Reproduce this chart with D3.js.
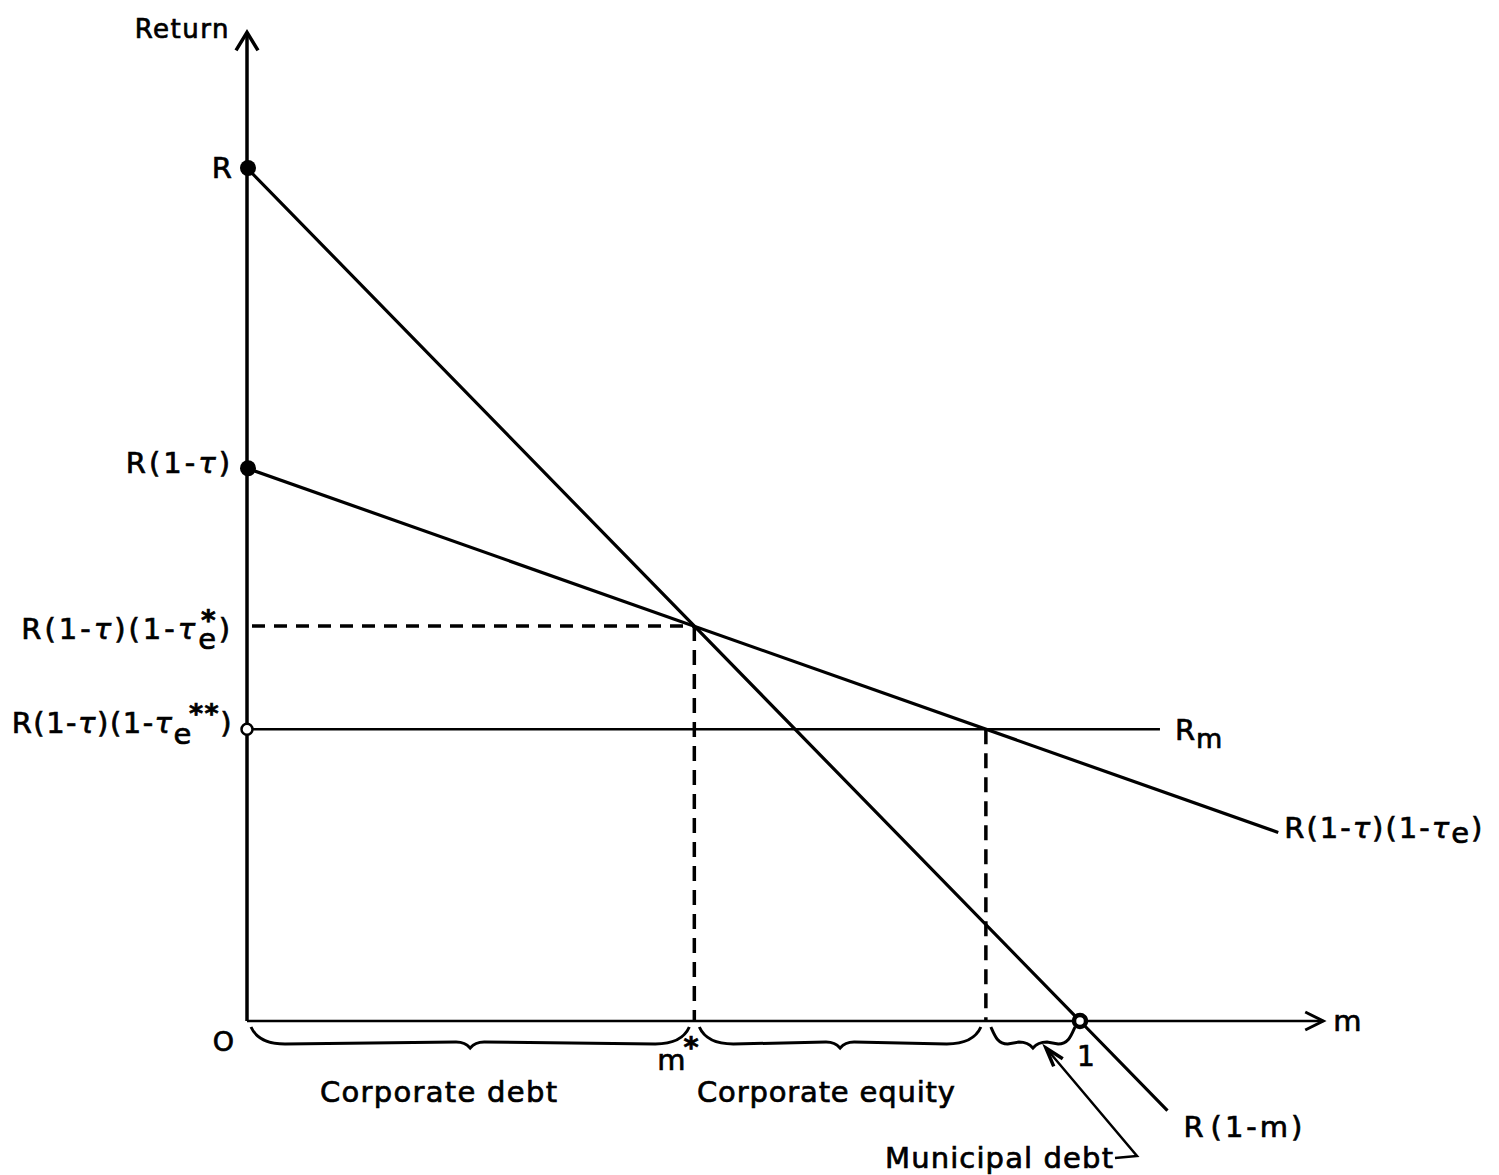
<!DOCTYPE html>
<head>
<meta charset="utf-8">
<title>Return vs m</title>
<script src="https://d3js.org/d3.v7.min.js"></script>
<style>
  body { margin: 0; background: #fff; }
  text { font-family: "DejaVu Sans", sans-serif; fill: #000; stroke: #000; stroke-width: 0.7px; }
</style>
</head>
<body>
<div id="container"></div>
<script>
//---------------------------- DATA ----------------------------//
// m on the x axis (0 .. 1), return on the y axis with R = 1
const lineR   = [[0, 1], [1, 0], [1.105, -0.105]];     // R(1-m)
const lineTax = [[0, 0.648], [1.238, 0.221]];          // R(1-tau)(1-tau_e)
const rmLevel = 0.342, rmEnd = 1.096;                  // R_m
const mStar = 0.537, rStar = 0.463;                    // m*, R(1-tau)(1-tau_e*)
const mStar2 = 0.887;                                  // where R_m meets the tax line
const filledPts = [[0, 1], [0, 0.648]];
const openPts = [[0, rmLevel]];
const zones = [
  { name: "Corporate debt",   from: 0,      to: mStar,  lx: 320, lw: 237 },
  { name: "Corporate equity", from: mStar,  to: mStar2, lx: 697, lw: 258 },
  { name: "Municipal debt",   from: mStar2, to: 1,      lx: 885, lw: 228 }
];
const xMax = 1.292, yMax = 1.159;

//--------------------------- SETUP ----------------------------//
const width = 1499, height = 1175;
const svg = d3.select("#container").append("svg")
    .attr("width", width)
    .attr("height", height);

const x = d3.scaleLinear().domain([0, 1]).range([247, 1080]);
const y = d3.scaleLinear().domain([0, 1]).range([1021, 168]);
const line = d3.line().x(d => x(d[0])).y(d => y(d[1]));

// little helper for labels made of several tspans
function rich(px, py, anchor, parts, size, spacing) {
  const t = svg.append("text")
      .attr("x", px).attr("y", py)
      .attr("text-anchor", anchor)
      .style("font-size", size + "px")
      .style("letter-spacing", (spacing || 0) + "px");
  parts.forEach(function(p) {
    const s = t.append("tspan").text(p.t);
    if (p.it) s.style("font-style", "italic");
    if (p.bold) s.style("font-weight", "bold");
    if (p.dx) s.attr("dx", p.dx);
    if (p.dy) s.attr("dy", p.dy);
    if (p.fs) s.style("font-size", p.fs + "px");
  });
  return t;
}

//---------------------------- AXES ----------------------------//
svg.append("line")
    .attr("x1", x(0)).attr("y1", y(0))
    .attr("x2", x(0)).attr("y2", y(yMax))
    .attr("stroke", "#000").attr("stroke-width", 3.5);
svg.append("path")
    .attr("d", "M" + (x(0) - 11) + "," + (y(yMax) + 18) + "L" + x(0) + "," + y(yMax) +
               "L" + (x(0) + 11) + "," + (y(yMax) + 18))
    .attr("fill", "none").attr("stroke", "#000").attr("stroke-width", 3.5);

svg.append("line")
    .attr("x1", x(0)).attr("y1", y(0))
    .attr("x2", x(xMax)).attr("y2", y(0))
    .attr("stroke", "#000").attr("stroke-width", 2.5);
svg.append("path")
    .attr("d", "M" + (x(xMax) - 18) + "," + (y(0) - 9) + "L" + x(xMax) + "," + y(0) +
               "L" + (x(xMax) - 18) + "," + (y(0) + 9))
    .attr("fill", "none").attr("stroke", "#000").attr("stroke-width", 3);

rich(x(0) - 17, y(yMax) + 6, "end", [{ t: "Return" }], 26, 1.5);
rich(x(xMax) + 10, y(0) + 10, "start", [{ t: "m" }], 29, 0);

//--------------------------- GUIDES ---------------------------//
svg.append("line")
    .attr("x1", x(0) + 5).attr("y1", y(rStar))
    .attr("x2", x(mStar)).attr("y2", y(rStar))
    .attr("stroke", "#000").attr("stroke-width", 3.5).attr("stroke-dasharray", "13,9");
svg.append("line")
    .attr("x1", x(mStar)).attr("y1", y(rStar))
    .attr("x2", x(mStar)).attr("y2", y(0))
    .attr("stroke", "#000").attr("stroke-width", 3.5).attr("stroke-dasharray", "15,9");
svg.append("line")
    .attr("x1", x(mStar2)).attr("y1", y(rmLevel))
    .attr("x2", x(mStar2)).attr("y2", y(0))
    .attr("stroke", "#000").attr("stroke-width", 3.5).attr("stroke-dasharray", "15,9");

//---------------------------- LINES ---------------------------//
svg.append("line")
    .attr("x1", x(0)).attr("y1", y(rmLevel))
    .attr("x2", x(rmEnd)).attr("y2", y(rmLevel))
    .attr("stroke", "#000").attr("stroke-width", 2.5);
svg.append("path").attr("d", line(lineTax))
    .attr("fill", "none").attr("stroke", "#000").attr("stroke-width", 3.2);
svg.append("path").attr("d", line(lineR))
    .attr("fill", "none").attr("stroke", "#000").attr("stroke-width", 3.2);

svg.selectAll(".dot").data(filledPts).enter().append("circle")
    .attr("cx", d => x(d[0]) + 1).attr("cy", d => y(d[1]))
    .attr("r", 8).attr("fill", "#000");
svg.selectAll(".odot").data(openPts).enter().append("circle")
    .attr("cx", d => x(d[0])).attr("cy", d => y(d[1]))
    .attr("r", 5.5).attr("fill", "#fff").attr("stroke", "#000").attr("stroke-width", 2.5);
svg.append("circle")
    .attr("cx", x(1)).attr("cy", y(0))
    .attr("r", 6).attr("fill", "#fff").attr("stroke", "#000").attr("stroke-width", 4.5);

//--------------------------- LABELS ---------------------------//
const tau = { t: "\u03C4", it: true };
rich(x(0) - 15, y(1) + 10, "end", [{ t: "R" }], 29, 0);
rich(x(0) - 14, y(0.648) + 5, "end",
     [{ t: "R(1-" }, tau, { t: ")" }], 29, 3);
rich(x(0) - 14, y(rStar) + 13, "end",
     [{ t: "R(1-" }, tau, { t: ")(1-" }, tau, { t: "e", dy: 10 },
      { t: "*", dx: -18, dy: -19, fs: 28, bold: true }, { t: ")", dx: 0, dy: 9 }], 29, 3);
rich(x(0) - 14, y(rmLevel) + 4, "end",
     [{ t: "R(1-" }, tau, { t: ")(1-" }, tau, { t: "e", dy: 11 },
      { t: "**", dx: -4, dy: -21, fs: 27, bold: true }, { t: ")", dy: 10 }], 29, 1.5);

rich(x(rmEnd) + 15, y(rmLevel) + 11, "start",
     [{ t: "R" }, { t: "m", dy: 8, fs: 27 }], 29, 1);
rich(x(lineTax[1][0]) + 6, y(lineTax[1][1]) + 6, "start",
     [{ t: "R(1-" }, tau, { t: ")(1-" }, tau, { t: "e", dy: 5 }, { t: ")", dy: -5 }], 29, 2);
rich(x(lineR[2][0]) + 16, y(lineR[2][1]) + 26, "start",
     [{ t: "R" }, { t: "(1-m)", dx: 4 }], 29, 3);

// axis marks
rich(x(0) - 13, y(0) + 30, "end", [{ t: "O" }], 27, 0);
rich(x(mStar) - 37, y(0) + 49, "start",
     [{ t: "m" }, { t: "*", dx: -2, dy: -13, fs: 29, bold: true }], 29, 0);
rich(x(1) - 3, y(0) + 45, "start", [{ t: "1" }], 28, 0);

//--------------------------- BRACES ---------------------------//
function brace(x0, x1, y0, h) {
  const xm = (x0 + x1) / 2;
  const w = Math.min(34, (x1 - x0) / 5);
  return "M" + x0 + "," + y0 +
    "C" + (x0 + 4) + "," + (y0 + 9) + " " + (x0 + w * 0.4) + "," + (y0 + h) + " " + (x0 + w) + "," + (y0 + h) +
    "L" + (xm - 14) + "," + (y0 + h - 2) +
    "Q" + (xm - 5) + "," + (y0 + h - 2) + " " + xm + "," + (y0 + h + 4) +
    "Q" + (xm + 5) + "," + (y0 + h - 2) + " " + (xm + 14) + "," + (y0 + h - 2) +
    "L" + (x1 - w) + "," + (y0 + h) +
    "C" + (x1 - w * 0.4) + "," + (y0 + h) + " " + (x1 - 4) + "," + (y0 + 9) + " " + x1 + "," + y0;
}
svg.selectAll(".brace").data(zones).enter().append("path")
    .attr("d", d => brace(x(d.from) + (d.from === 0 ? 4 : 5), x(d.to) - 5, y(0) + 6, 17))
    .attr("fill", "none").attr("stroke", "#000").attr("stroke-width", 3);

svg.selectAll(".zlabel").data(zones).enter().append("text")
    .attr("x", d => d.lx)
    .attr("y", (d, i) => i < 2 ? y(0) + 81 : y(0) + 147)
    .attr("textLength", d => d.lw)
    .attr("lengthAdjust", "spacing")
    .style("font-size", "29px")
    .text(d => d.name);

// arrow from "Municipal debt" up to its brace
const tip = [(x(mStar2) + x(1)) / 2 + 13, y(0) + 27];
const elbow = [1137, y(0) + 135];
svg.append("path")
    .attr("d", "M" + (elbow[0] - 22) + "," + (elbow[1] + 2) + "L" + elbow[0] + "," + elbow[1] +
               "L" + tip[0] + "," + tip[1])
    .attr("fill", "none").attr("stroke", "#000").attr("stroke-width", 2.5);
const ang = Math.atan2(elbow[1] - tip[1], elbow[0] - tip[0]);
const hl = 20, ha = 0.3;
svg.append("path")
    .attr("d", "M" + (tip[0] + hl * Math.cos(ang - ha)) + "," + (tip[1] + hl * Math.sin(ang - ha)) +
               "L" + tip[0] + "," + tip[1] +
               "L" + (tip[0] + hl * Math.cos(ang + ha)) + "," + (tip[1] + hl * Math.sin(ang + ha)))
    .attr("fill", "none").attr("stroke", "#000").attr("stroke-width", 3.5);
</script>
</body>
